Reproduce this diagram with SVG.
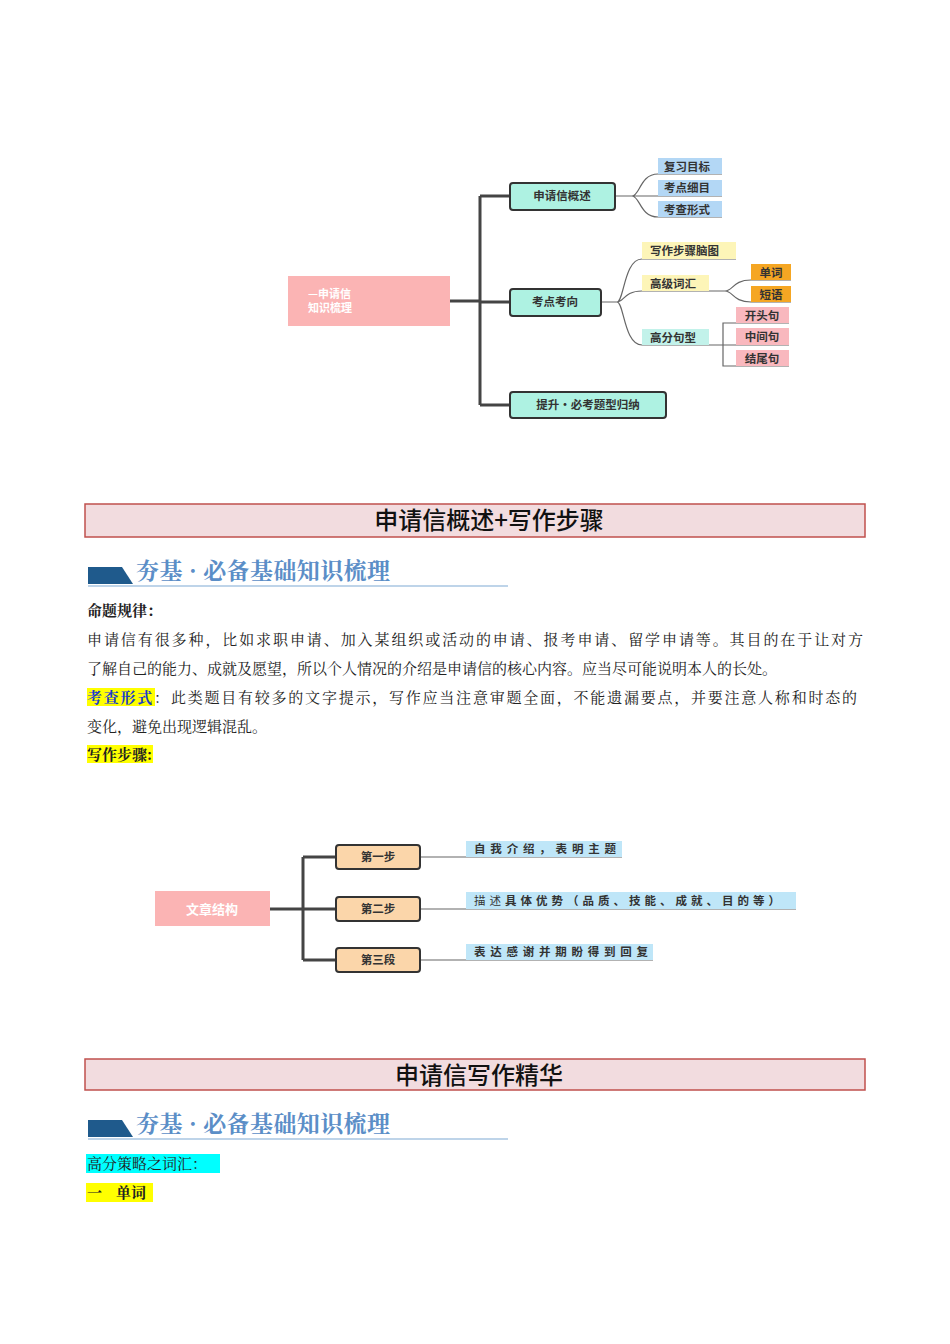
<svg xmlns="http://www.w3.org/2000/svg" width="950" height="1344" viewBox="0 0 950 1344">
<style>
.n{fill:#aef2e2;stroke:#333;stroke-width:2}
.o{fill:#fbd6aa;stroke:#333;stroke-width:2}
.t{font-family:"Noto Sans CJK SC",sans-serif;font-weight:bold;font-size:11.5px;fill:#333}
.tw{font-family:"Noto Sans CJK SC",sans-serif;font-weight:bold;fill:#fff}
.c{fill:none;stroke:#444;stroke-width:3}
.th{fill:none;stroke:#666;stroke-width:1.2}
.b{font-family:"Noto Serif CJK SC","Noto Sans CJK SC",serif;font-size:15px;fill:#222}
.sec{fill:#f2dcdf;stroke:#c0504d;stroke-width:1.5}
.st{font-family:"Noto Sans CJK SC",sans-serif;font-size:24px;font-weight:500;fill:#111;text-anchor:middle}
.ban{font-family:"Noto Serif CJK SC","Noto Sans CJK SC",serif;font-weight:bold;font-size:23px;fill:#5b8ec7}
</style>
<rect width="950" height="1344" fill="#fff"/>
<g id="connectors">
<path class="c" d="M450 301H480M480 196V405M480 196H510M480 302H510M480 405H510"/>
<path class="th" d="M615 196H632M632 196C640 196 640 174 658 174H722M632 196H722M632 196C640 196 640 217 658 217H722"/>
<path class="th" d="M601 302H617M617 302C624 302 624 259 642 259H736M617 302C624 302 624 291 642 291H709M617 302C624 302 624 345 642 345H709"/>
<path class="th" d="M709 291H725M725 291C733 291 733 280 751 280H791M725 291C733 291 733 302 751 302H791"/>
<path class="th" d="M709 345H723M723 345V323H789M723 345H789M723 345V366H789"/>
<path class="c" d="M270 909H303M303 857V960M303 857H336M303 909H336M303 960H336"/>
<path class="th" d="M420 857H622M420 909H796M420 960H653"/>
</g>
<g id="root1"><rect x="288" y="276" width="162" height="50" fill="#fbb4b4"/><text class="tw" font-size="11" x="308" y="298">—申请信</text><text class="tw" font-size="11" x="308" y="312">知识梳理</text></g>
<g id="n1"><rect class="n" x="510" y="183" width="105" height="27" rx="3"/><text class="t" x="562" y="200" text-anchor="middle">申请信概述</text></g>
<g id="n2"><rect class="n" x="510" y="289" width="91" height="27" rx="3"/><text class="t" x="555" y="306" text-anchor="middle">考点考向</text></g>
<g id="n3"><rect class="n" x="510" y="392" width="156" height="26" rx="3"/><text class="t" x="588" y="409" text-anchor="middle">提升·必考题型归纳</text></g>
<g id="l1"><rect x="658" y="158" width="64" height="16" fill="#b3d7f5"/><text class="t" x="664" y="171">复习目标</text></g>
<g id="l2"><rect x="658" y="180" width="64" height="16" fill="#b3d7f5"/><text class="t" x="664" y="192">考点细目</text></g>
<g id="l3"><rect x="658" y="201" width="64" height="16" fill="#b3d7f5"/><text class="t" x="664" y="214">考查形式</text></g>
<g id="l4"><rect x="642" y="242" width="94" height="17" fill="#fdf5b8"/><text class="t" x="650" y="255">写作步骤脑图</text></g>
<g id="l5"><rect x="642" y="275" width="67" height="16" fill="#fdf5b8"/><text class="t" x="650" y="288">高级词汇</text></g>
<g id="l6"><rect x="642" y="329" width="67" height="16" fill="#c2f2ea"/><text class="t" x="650" y="342">高分句型</text></g>
<g id="l7"><rect x="751" y="264" width="40" height="16" fill="#f5a623"/><text class="t" x="771" y="277" text-anchor="middle">单词</text></g>
<g id="l8"><rect x="751" y="286" width="40" height="16" fill="#f5a623"/><text class="t" x="771" y="299" text-anchor="middle">短语</text></g>
<g id="l9"><rect x="736" y="307" width="53" height="16" fill="#f9b8be"/><text class="t" x="762" y="320" text-anchor="middle">开头句</text></g>
<g id="l10"><rect x="736" y="328" width="53" height="17" fill="#f9b8be"/><text class="t" x="762" y="341" text-anchor="middle">中间句</text></g>
<g id="l11"><rect x="736" y="350" width="53" height="16" fill="#f9b8be"/><text class="t" x="762" y="363" text-anchor="middle">结尾句</text></g>
<g id="sec1"><rect class="sec" x="85" y="504" width="780" height="33"/><text class="st" x="489" y="529">申请信概述+写作步骤</text></g>
<g id="ban1"><path d="M88 567H122L133 584H88Z" fill="#1f5a8c"/><line x1="88" y1="586" x2="508" y2="586" stroke="#a9c6e2" stroke-width="1.5"/><text class="ban" x="136" y="579" textLength="254">夯基 · 必备基础知识梳理</text></g>
<g id="body">
<text class="b" x="87" y="616" font-weight="bold">命题规律：</text>
<text class="b" x="87" y="645" textLength="776" lengthAdjust="spacing">申请信有很多种，比如求职申请、加入某组织或活动的申请、报考申请、留学申请等。其目的在于让对方</text>
<text class="b" x="87" y="674">了解自己的能力、成就及愿望，所以个人情况的介绍是申请信的核心内容。应当尽可能说明本人的长处。</text>
<rect x="87" y="688" width="68" height="18" fill="#ffff00"/>
<text class="b" x="87" y="703" textLength="770" lengthAdjust="spacing"><tspan font-weight="bold" fill="#1a3ccc">考查形式</tspan>：此类题目有较多的文字提示，写作应当注意审题全面，不能遗漏要点，并要注意人称和时态的</text>
<text class="b" x="87" y="732">变化，避免出现逻辑混乱。</text>
<rect x="87" y="745" width="66" height="18" fill="#ffff00"/>
<text class="b" x="87" y="760" font-weight="bold" fill="#1a3ccc">写作步骤<tspan fill="#222">:</tspan></text>
</g>
<g id="root2"><rect x="155" y="891" width="115" height="35" fill="#fbb4b4"/><text class="tw" font-size="13" x="212" y="914" text-anchor="middle">文章结构</text></g>
<g id="s1"><rect class="o" x="336" y="845" width="84" height="24" rx="3"/><text class="t" x="378" y="861" text-anchor="middle">第一步</text></g>
<g id="s2"><rect class="o" x="336" y="897" width="84" height="24" rx="3"/><text class="t" x="378" y="913" text-anchor="middle">第二步</text></g>
<g id="s3"><rect class="o" x="336" y="948" width="84" height="24" rx="3"/><text class="t" x="378" y="964" text-anchor="middle">第三段</text></g>
<g id="d1"><rect x="466" y="841" width="156" height="16" fill="#bfe6f8"/><text class="t" x="474" y="853" textLength="142">自我介绍，表明主题</text></g>
<g id="d2"><rect x="466" y="892" width="330" height="17" fill="#bfe6f8"/><text class="t" x="474" y="905" textLength="306"><tspan font-weight="normal">描述</tspan>具体优势（品质、技能、成就、目的等）</text></g>
<g id="d3"><rect x="466" y="944" width="187" height="16" fill="#bfe6f8"/><text class="t" x="474" y="956" textLength="174">表达感谢并期盼得到回复</text></g>
<g id="sec2"><rect class="sec" x="85" y="1059" width="780" height="31"/><text class="st" x="479" y="1084">申请信写作精华</text></g>
<g id="ban2"><path d="M88 1120H122L133 1137H88Z" fill="#1f5a8c"/><line x1="88" y1="1139" x2="508" y2="1139" stroke="#a9c6e2" stroke-width="1.5"/><text class="ban" x="136" y="1132" textLength="254">夯基 · 必备基础知识梳理</text></g>
<g id="body2">
<rect x="86" y="1154" width="134" height="19" fill="#00ffff"/>
<text class="b" x="87" y="1169">高分策略之词汇：</text>
<rect x="86" y="1183" width="67" height="19" fill="#ffff00"/>
<text class="b" x="87" y="1198" font-weight="bold" fill="#1a3ccc">一<tspan dx="14">单词</tspan></text>
</g>
</svg>
